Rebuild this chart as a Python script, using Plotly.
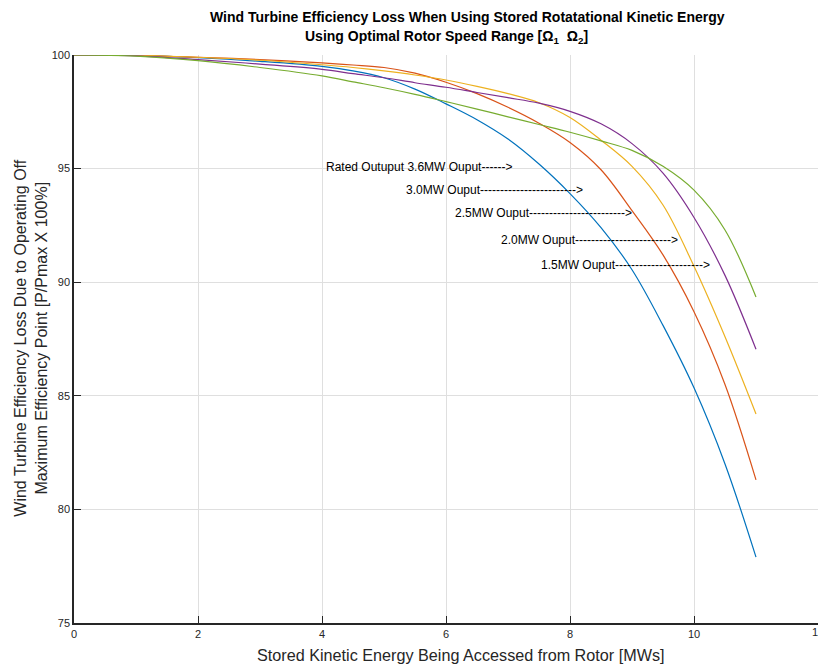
import plotly.graph_objects as go

x_vals = [0, 1, 2, 3, 4, 4.5, 5, 5.5, 6, 6.5, 7, 7.5, 8, 8.5, 9, 9.5, 10, 10.5, 11]

blue = [100, 99.98, 99.88, 99.72, 99.5, 99.3, 99.0, 98.5, 97.85, 97.15, 96.3, 95.2, 93.9, 92.4, 90.55, 88.1, 85.35, 82.0, 77.9]
red = [100, 99.98, 99.9, 99.8, 99.65, 99.56, 99.45, 99.2, 98.8, 98.3, 97.7, 97.0, 96.15, 94.95, 93.15, 91.2, 88.7, 85.5, 81.3]
yellow = [100, 99.98, 99.9, 99.77, 99.57, 99.45, 99.3, 99.12, 98.9, 98.62, 98.3, 97.9, 97.25, 96.25, 95.1, 93.4, 90.7, 87.6, 84.2]
purple = [100, 99.96, 99.8, 99.6, 99.37, 99.18, 99.0, 98.78, 98.58, 98.35, 98.12, 97.88, 97.52, 96.97, 96.1, 94.8, 92.85, 90.3, 87.05]
green = [100, 99.95, 99.75, 99.45, 99.08, 98.82, 98.56, 98.27, 97.95, 97.62, 97.28, 96.94, 96.6, 96.22, 95.8, 95.1, 94.05, 92.3, 89.35]

series = [blue, red, yellow, purple, green]
colors = ["#0072BD", "#D95319", "#EDB120", "#7E2F8E", "#77AC30"]

ann_text = [
    "Rated Outuput 3.6MW Ouput------>",
    "3.0MW Ouput------------------------>",
    "2.5MW Ouput------------------------>",
    "2.0MW Ouput------------------------>",
    "1.5MW Ouput---------------------->",
]
ann_x = [4.04, 5.33, 6.11, 6.85, 7.50]
ann_y = [95.07, 94.06, 93.05, 91.86, 90.76]

x_ticks = [0, 2, 4, 6, 8, 10, 12]
y_ticks = [75, 80, 85, 90, 95, 100]

title_lines = [
    "<b>Wind Turbine Efficiency Loss When Using Stored Rotatational Kinetic Energy</b>",
    "<b>Using Optimal Rotor Speed Range [Ω<sub>1</sub>  Ω<sub>2</sub>]</b>",
]
x_title = "Stored Kinetic Energy Being Accessed from Rotor [MWs]"
y_title = "Wind Turbine Efficiency Loss Due to Operating Off<br>Maximum Efficiency Point [P/Pmax X 100%]"

FONT = "Liberation Sans, Arial"

fig = go.Figure()
for ys, c in zip(series, colors):
    fig.add_trace(go.Scatter(x=x_vals, y=ys, mode="lines",
                             line=dict(color=c, width=1.2, shape="spline", smoothing=1.0),
                             showlegend=False, hoverinfo="skip"))

for t, ax, ay in zip(ann_text, ann_x, ann_y):
    fig.add_annotation(x=ax, y=ay, xref="x", yref="y", text=t, showarrow=False,
                       xanchor="left", yanchor="middle",
                       font=dict(family=FONT, size=12, color="#000000"))

# title lines
fig.add_annotation(x=0.529, y=1.0669, xref="paper", yref="paper", text=title_lines[0],
                   showarrow=False, xanchor="center", yanchor="middle",
                   font=dict(family=FONT, size=14, color="#000000"))
fig.add_annotation(x=0.501, y=1.0317, xref="paper", yref="paper", text=title_lines[1],
                   showarrow=False, xanchor="center", yanchor="middle",
                   font=dict(family=FONT, size=14, color="#000000"))
# axis titles
fig.add_annotation(x=0.52, y=-0.0563, xref="paper", yref="paper", text=x_title,
                   showarrow=False, xanchor="center", yanchor="middle",
                   font=dict(family=FONT, size=16.2, color="#262626"))
fig.add_annotation(x=-0.058, y=0.502, xref="paper", yref="paper", text=y_title,
                   showarrow=False, xanchor="center", yanchor="middle", textangle=-90,
                   font=dict(family=FONT, size=16, color="#262626"))
# partially visible last tick label
fig.add_annotation(x=12, y=0, xref="x", yref="paper", text=str(x_ticks[-1]),
                   showarrow=False, xanchor="center", yanchor="top", yshift=-1,
                   font=dict(family=FONT, size=11, color="#262626"))

fig.update_layout(
    width=818, height=664,
    margin=dict(l=74, r=0, t=55, b=41),
    paper_bgcolor="white", plot_bgcolor="white",
    font=dict(family=FONT, color="#262626"),
    xaxis=dict(
        range=[0, 12], tickvals=x_ticks[:-1], ticktext=[str(v) for v in x_ticks[:-1]],
        showgrid=True, gridcolor="#dfdfdf", gridwidth=1, zeroline=False,
        showline=True, linecolor="#262626", linewidth=1.5,
        ticks="inside", ticklen=7, tickcolor="#262626",
        tickfont=dict(size=11, color="#262626"),
    ),
    yaxis=dict(
        range=[75, 100], tickvals=y_ticks, ticktext=[str(v) for v in y_ticks],
        showgrid=True, gridcolor="#dfdfdf", gridwidth=1, zeroline=False,
        showline=True, linecolor="#262626", linewidth=1.5,
        ticks="inside", ticklen=7, tickcolor="#262626",
        tickfont=dict(size=11, color="#262626"),
    ),
)

fig.write_html("out.html")
